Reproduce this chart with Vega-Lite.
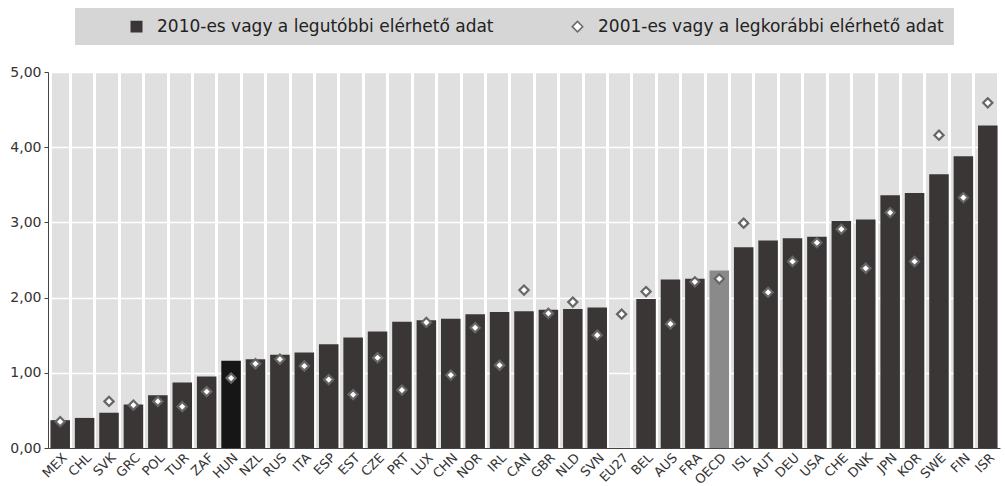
{
  "$schema": "https://vega.github.io/schema/vega-lite/v6.json",
  "width": 952,
  "height": 376,
  "autosize": {"type": "none"},
  "padding": {"left": 48, "top": 72, "right": 5, "bottom": 38},
  "background": "white",
  "config": {
    "view": {"fill": "#e0e0e0", "stroke": null},
    "font": "DejaVu Sans"
  },
  "data": {
    "values": [
      {"country": "MEX", "v2010": 0.37, "v2001": 0.35},
      {"country": "CHL", "v2010": 0.40, "v2001": null},
      {"country": "SVK", "v2010": 0.47, "v2001": 0.62},
      {"country": "GRC", "v2010": 0.58, "v2001": 0.57},
      {"country": "POL", "v2010": 0.70, "v2001": 0.62},
      {"country": "TUR", "v2010": 0.87, "v2001": 0.55},
      {"country": "ZAF", "v2010": 0.95, "v2001": 0.75},
      {"country": "HUN", "v2010": 1.16, "v2001": 0.93},
      {"country": "NZL", "v2010": 1.18, "v2001": 1.12},
      {"country": "RUS", "v2010": 1.24, "v2001": 1.18},
      {"country": "ITA", "v2010": 1.27, "v2001": 1.09},
      {"country": "ESP", "v2010": 1.38, "v2001": 0.91},
      {"country": "EST", "v2010": 1.47, "v2001": 0.71},
      {"country": "CZE", "v2010": 1.55, "v2001": 1.20},
      {"country": "PRT", "v2010": 1.68, "v2001": 0.77},
      {"country": "LUX", "v2010": 1.70, "v2001": 1.67},
      {"country": "CHN", "v2010": 1.72, "v2001": 0.97},
      {"country": "NOR", "v2010": 1.78, "v2001": 1.60},
      {"country": "IRL", "v2010": 1.81, "v2001": 1.10},
      {"country": "CAN", "v2010": 1.82, "v2001": 2.10},
      {"country": "GBR", "v2010": 1.84, "v2001": 1.79},
      {"country": "NLD", "v2010": 1.85, "v2001": 1.94},
      {"country": "SVN", "v2010": 1.87, "v2001": 1.50},
      {"country": "EU27", "v2010": null, "v2001": 1.78},
      {"country": "BEL", "v2010": 1.98, "v2001": 2.08},
      {"country": "AUS", "v2010": 2.24, "v2001": 1.65},
      {"country": "FRA", "v2010": 2.25, "v2001": 2.21},
      {"country": "OECD", "v2010": 2.36, "v2001": 2.25},
      {"country": "ISL", "v2010": 2.67, "v2001": 2.99},
      {"country": "AUT", "v2010": 2.76, "v2001": 2.07},
      {"country": "DEU", "v2010": 2.79, "v2001": 2.48},
      {"country": "USA", "v2010": 2.81, "v2001": 2.73},
      {"country": "CHE", "v2010": 3.02, "v2001": 2.91},
      {"country": "DNK", "v2010": 3.04, "v2001": 2.39},
      {"country": "JPN", "v2010": 3.36, "v2001": 3.13},
      {"country": "KOR", "v2010": 3.39, "v2001": 2.48},
      {"country": "SWE", "v2010": 3.64, "v2001": 4.16},
      {"country": "FIN", "v2010": 3.88, "v2001": 3.33},
      {"country": "ISR", "v2010": 4.29, "v2001": 4.59}
    ]
  },
  "encoding": {
    "x": {
      "field": "country",
      "type": "nominal",
      "scale": {
        "domain": ["MEX","CHL","SVK","GRC","POL","TUR","ZAF","HUN","NZL","RUS","ITA","ESP","EST","CZE","PRT","LUX","CHN","NOR","IRL","CAN","GBR","NLD","SVN","EU27","BEL","AUS","FRA","OECD","ISL","AUT","DEU","USA","CHE","DNK","JPN","KOR","SWE","FIN","ISR"],
        "paddingInner": 0.2,
        "paddingOuter": 0.1
      },
      "axis": {
        "title": null,
        "labelAngle": -45,
        "labelFontSize": 13,
        "labelColor": "#333333",
        "labelPadding": 3,
        "ticks": false,
        "grid": true,
        "gridColor": "#ffffff",
        "gridWidth": 3,
        "tickBand": "extent",
        "domainColor": "#444444"
      }
    }
  },
  "layer": [
    {
      "mark": {"type": "bar"},
      "encoding": {
        "y": {
          "field": "v2010",
          "type": "quantitative",
          "scale": {"domain": [0, 5]},
          "axis": {
            "title": null,
            "values": [0, 0.5, 1, 1.5, 2, 2.5, 3, 3.5, 4, 4.5, 5],
            "labelExpr": "replace(format(datum.value, '.2f'), '.', ',')",
            "labelFontSize": 14,
            "labelColor": "#333333",
            "labelPadding": 3,
            "gridColor": "#ffffff",
            "gridWidth": 1.5,
            "tickSize": 4,
            "tickColor": "#444444",
            "domainColor": "#444444"
          }
        },
        "color": {
          "datum": "2010-es vagy a legutóbbi elérhető adat",
          "condition": [
            {"test": "datum.country === 'HUN'", "value": "#161616"},
            {"test": "datum.country === 'OECD'", "value": "#8a8a8a"}
          ],
          "scale": {
            "domain": ["2010-es vagy a legutóbbi elérhető adat", "2001-es vagy a legkorábbi elérhető adat"],
            "range": ["#3b3636", "#ffffff"]
          },
          "legend": {
            "title": null,
            "orient": "none",
            "legendX": 27,
            "legendY": -64,
            "direction": "horizontal",
            "fillColor": "#d6d6d6",
            "padding": 10,
            "labelFontSize": 17,
            "labelColor": "#222222",
            "labelLimit": 500,
            "labelOffset": 12,
            "symbolSize": 110,
            "symbolOffset": 43,
            "columnPadding": 32,
            "encode": {
              "symbols": {
                "update": {
                  "shape": {"signal": "datum.value === '2001-es vagy a legkorábbi elérhető adat' ? 'diamond' : 'square'"},
                  "stroke": {"signal": "datum.value === '2001-es vagy a legkorábbi elérhető adat' ? '#6b6b6b' : '#3b3636'"},
                  "strokeWidth": {"value": 1.5}
                }
              }
            }
          }
        }
      }
    },
    {
      "mark": {"type": "point", "shape": "diamond", "filled": true, "size": 85, "stroke": "#666666", "strokeWidth": 2.2, "opacity": 1},
      "encoding": {
        "y": {"field": "v2001", "type": "quantitative"},
        "color": {"datum": "2001-es vagy a legkorábbi elérhető adat"}
      }
    }
  ]
}
